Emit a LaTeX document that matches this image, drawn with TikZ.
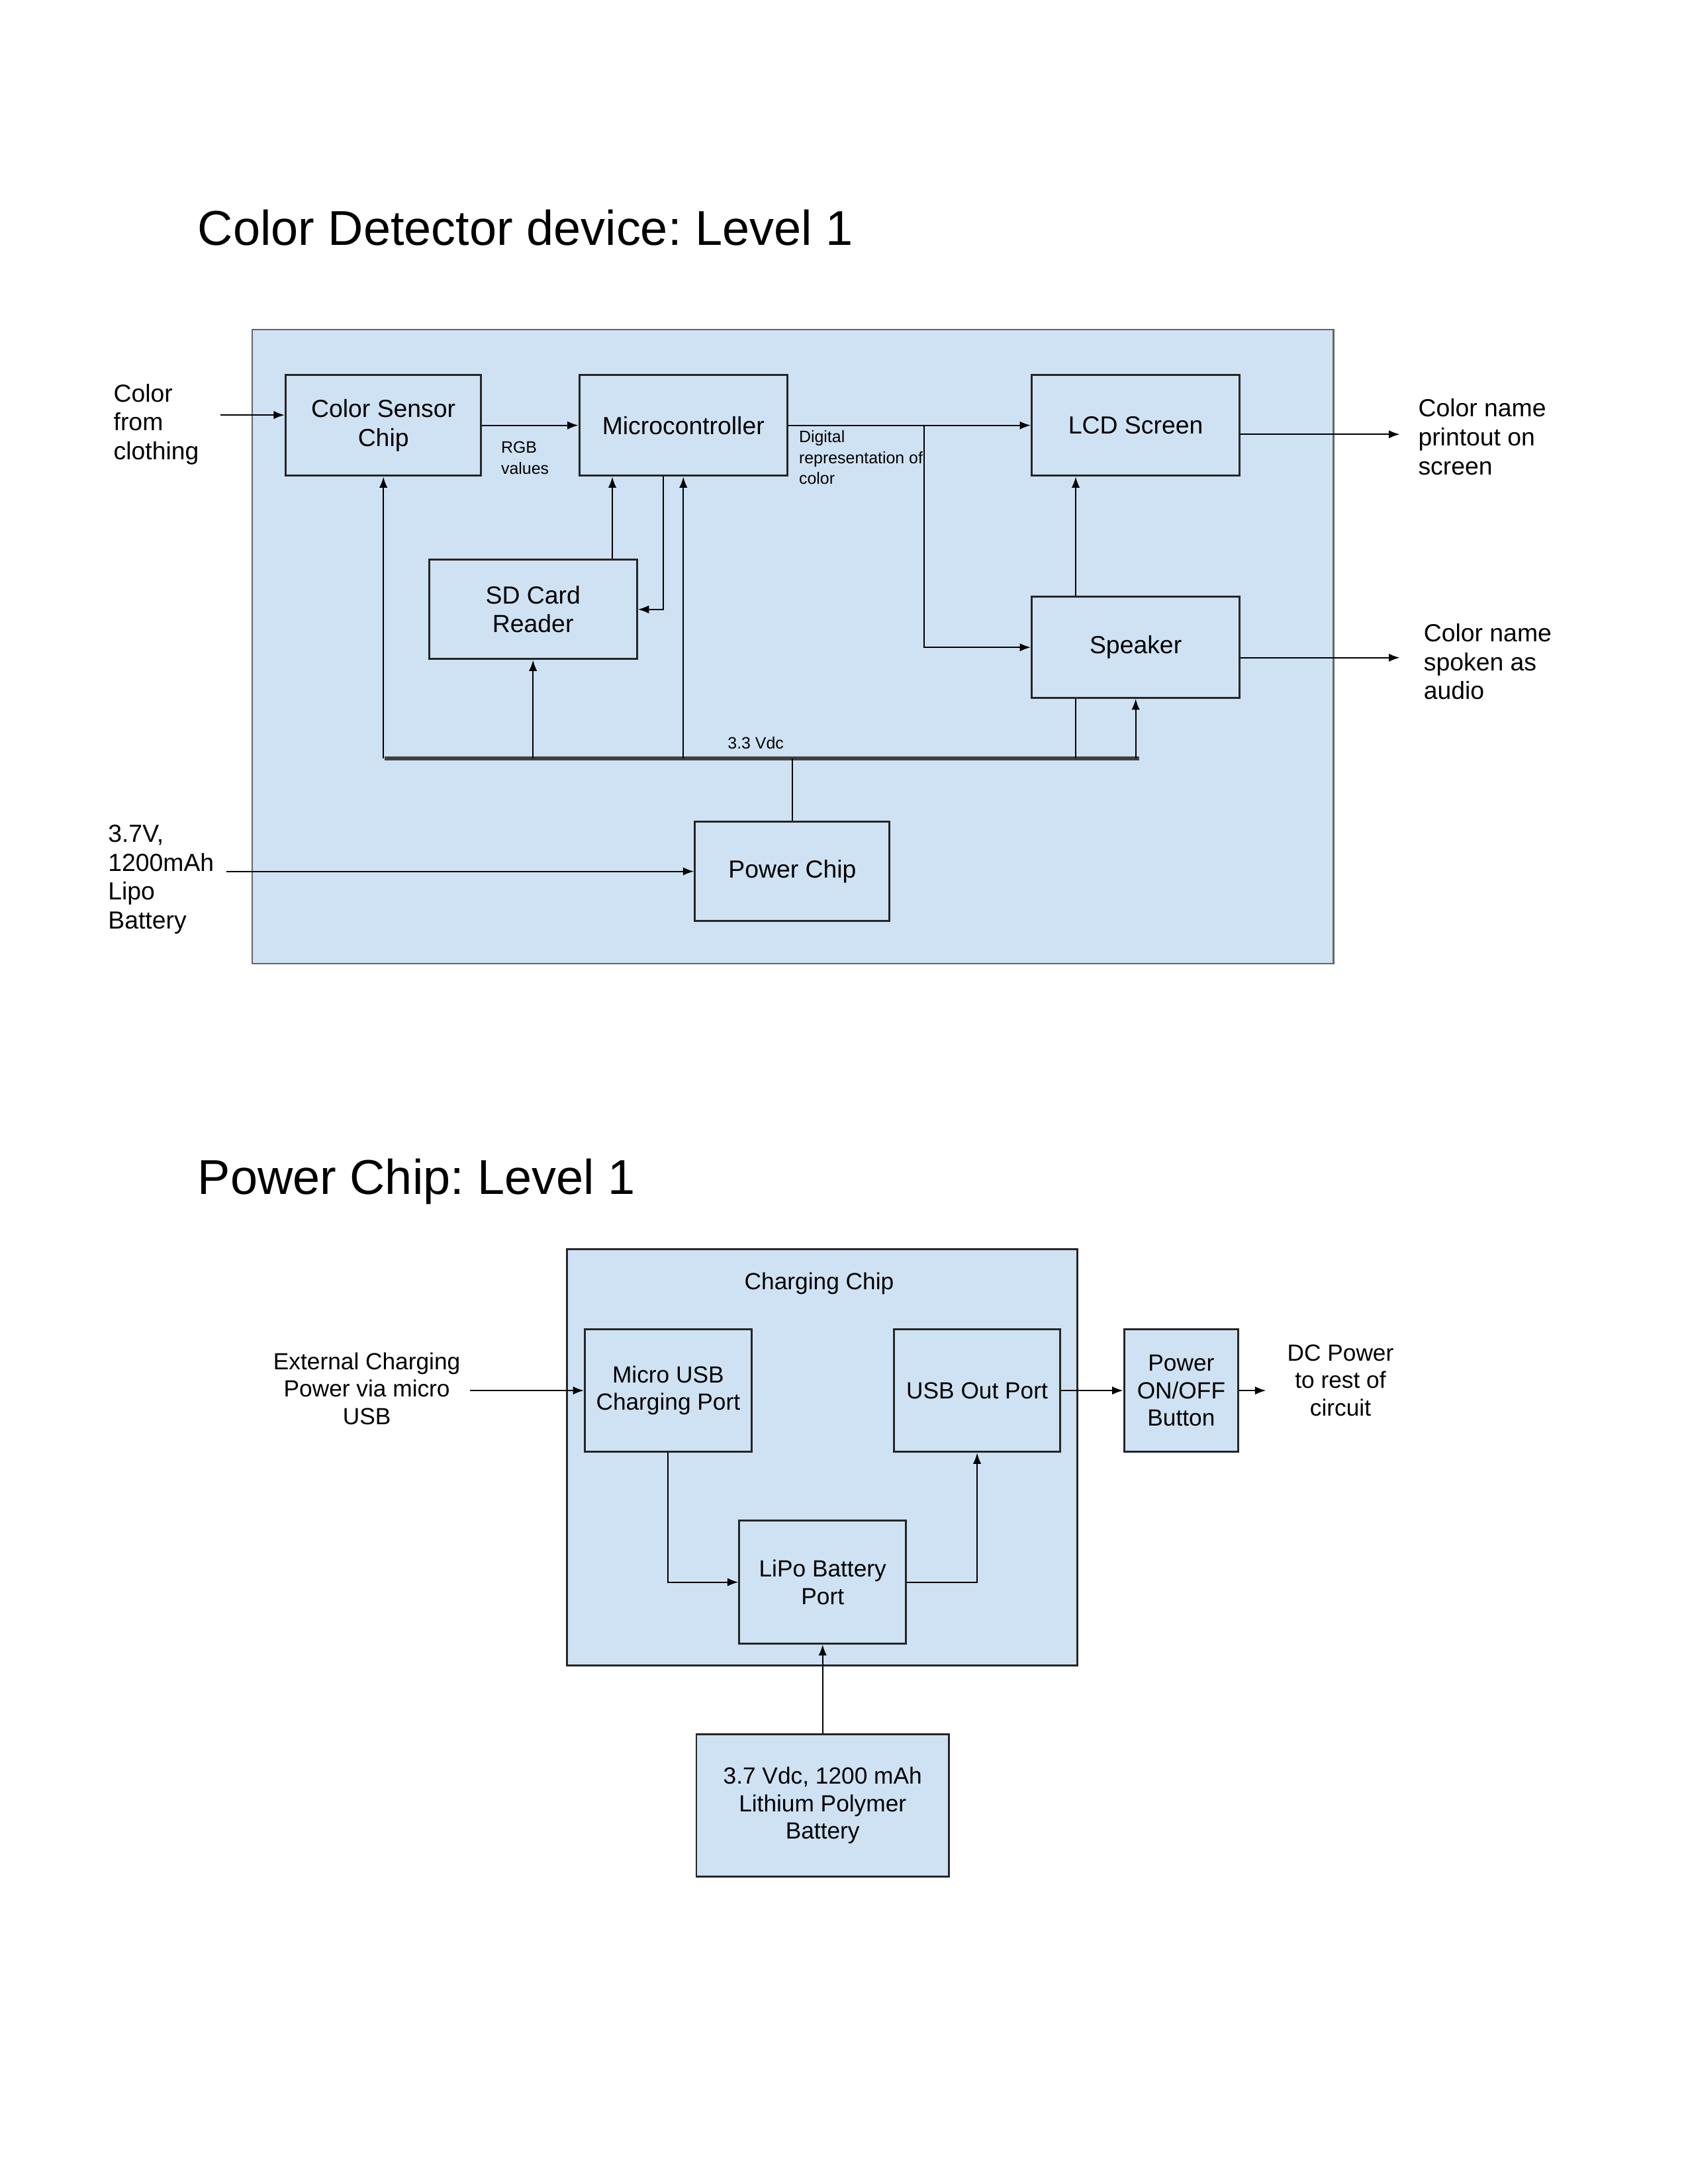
\documentclass[tikz,border=0pt]{standalone}
\usepackage{fontspec}
\setmainfont{Liberation Sans}
\usetikzlibrary{arrows.meta}
\definecolor{chipblue}{RGB}{207,226,243}
\frenchspacing

\begin{document}
\begin{tikzpicture}[x=0.01764cm, y=-0.01764cm,
  every node/.style = {align=center, font=\fontsize{9}{10.5}\selectfont},
  blk/.style = {shape=rectangle, draw=black!85, line width=0.7pt, fill=chipblue, inner sep=2pt},
  lbl/.style = {inner sep=0pt, align=left},
  smalltxt/.style = {inner sep=0pt, align=left, font=\fontsize{6}{7.5}\selectfont},
  arr/.style = {-{Latex[length=4pt,width=3pt]}, line width=0.5pt},
  ttl/.style = {anchor=base west, inner sep=0pt, font=\fontsize{17.8}{20}\selectfont}]
  \useasboundingbox (0,0) rectangle (1224,1584);

  \node[ttl] (t1) at (143,178) {Color Detector device: Level 1};
  \node[blk, draw=black!60, line width=0.6pt, minimum width=13.83cm, minimum height=8.11cm] (dev) at (575,469) {};
  \node[blk, minimum width=2.5cm, minimum height=1.29cm] (csc) at (278,308.5) {Color Sensor\\Chip};
  \node[blk, minimum width=2.66cm, minimum height=1.29cm] (mcu) at (495.5,308.5) {Microcontroller};
  \node[blk, minimum width=2.66cm, minimum height=1.29cm] (lcd) at (823.5,308.5) {LCD Screen};
  \node[blk, minimum width=2.66cm, minimum height=1.27cm] (sd) at (386.5,442) {SD Card\\Reader};
  \node[blk, minimum width=2.66cm, minimum height=1.29cm] (spk) at (823.5,469.5) {Speaker};
  \node[blk, minimum width=2.49cm, minimum height=1.27cm] (pwr) at (574.5,632) {Power Chip};

  \node[lbl, anchor=north west] (cloth) at (82,278) {Color\\from\\clothing};
  \node[lbl, anchor=north west] (lipo) at (78,598) {3.7V,\\1200mAh\\Lipo\\Battery};
  \node[lbl, anchor=north west] (scr) at (1028,289) {Color name\\printout on\\screen};
  \node[lbl, anchor=north west] (aud) at (1032,452) {Color name\\spoken as\\audio};
  \node[smalltxt, anchor=north west] (rgb) at (363,320) {RGB\\values};
  \node[smalltxt, anchor=north west] (dig) at (579,312) {Digital\\representation of\\color};
  \node[smalltxt] (vdc) at (548,539) {3.3 Vdc};

  \coordinate (clothout) at (160,301);
  \coordinate (lipoout) at (164,632);
  \coordinate (scrin) at (1015,315);
  \coordinate (audin) at (1015,477);
  \coordinate (split) at (670,308.5);
  \coordinate (busL) at (279,550);
  \coordinate (busR) at (826,550);

  \draw[arr] (clothout) -- (clothout -| csc.west);
  \draw[arr] (lipoout) -- (pwr.west);
  \draw[arr] (csc) -- (mcu);
  \draw[arr] (mcu) -- (lcd);
  \draw[arr] (split) |- (spk.west);
  \draw[arr] (sd.north -| 444,0) -- (mcu.south -| 444,0);
  \draw[arr] (mcu.south -| 481,0) |- (sd.east);
  \draw[arr] (spk.north -| 780,0) -- (lcd.south -| 780,0);
  \draw[arr] (lcd.east |- scrin) -- (scrin);
  \draw[arr] (spk.east |- audin) -- (audin);

  \draw[line width=1.3pt, black!75] (busL) -- (busR);
  \draw[arr] (csc.south |- busL) -- (csc.south);
  \draw[arr] (sd.south |- busL) -- (sd.south);
  \draw[arr] (mcu.south |- busL) -- (mcu.south);
  \draw[line width=0.5pt] (spk.south -| 780,0) -- (780,0 |- busL);
  \draw[arr] (spk.south |- busL) -- (spk.south);
  \draw[line width=0.5pt] (pwr.north) -- (pwr.north |- busL);

  \node[ttl] (t2) at (143,866) {Power Chip: Level 1};
  \begin{scope}[every node/.append style={font=\fontsize{8.5}{10}\selectfont}]
    \node[blk, minimum width=6.53cm, minimum height=5.33cm] (chg) at (596,1057) {};
    \node (chglbl) at (594,931) {Charging Chip};
    \node[blk, minimum width=2.13cm, minimum height=1.57cm] (musb) at (484.5,1008.5) {Micro USB\\Charging Port};
    \node[blk, minimum width=2.13cm, minimum height=1.57cm] (uout) at (708.5,1008.5) {USB Out Port};
    \node[blk, minimum width=2.13cm, minimum height=1.57cm] (lport) at (596.5,1147.5) {LiPo Battery\\Port};
    \node[blk, minimum width=1.46cm, minimum height=1.57cm] (onoff) at (856.5,1008.5) {Power\\ON/OFF\\Button};
    \node[blk, minimum width=3.23cm, minimum height=1.82cm] (bat) at (596.5,1309.5) {3.7 Vdc, 1200 mAh\\Lithium Polymer\\Battery};
    \node (ext) at (266,1007) {External Charging\\Power via micro\\USB};
    \node (dc) at (972,1001) {DC Power\\to rest of\\circuit};
  \end{scope}
  \coordinate (dcin) at (918,1008.5);

  \draw[arr] (ext.east |- musb) -- (musb);
  \draw[arr] (uout) -- (onoff);
  \draw[arr] (onoff) -- (dcin);
  \draw[arr] (musb.south) |- (lport.west);
  \draw[arr] (lport.east) -| (uout.south);
  \draw[arr] (bat) -- (lport);
\end{tikzpicture}
\end{document}
